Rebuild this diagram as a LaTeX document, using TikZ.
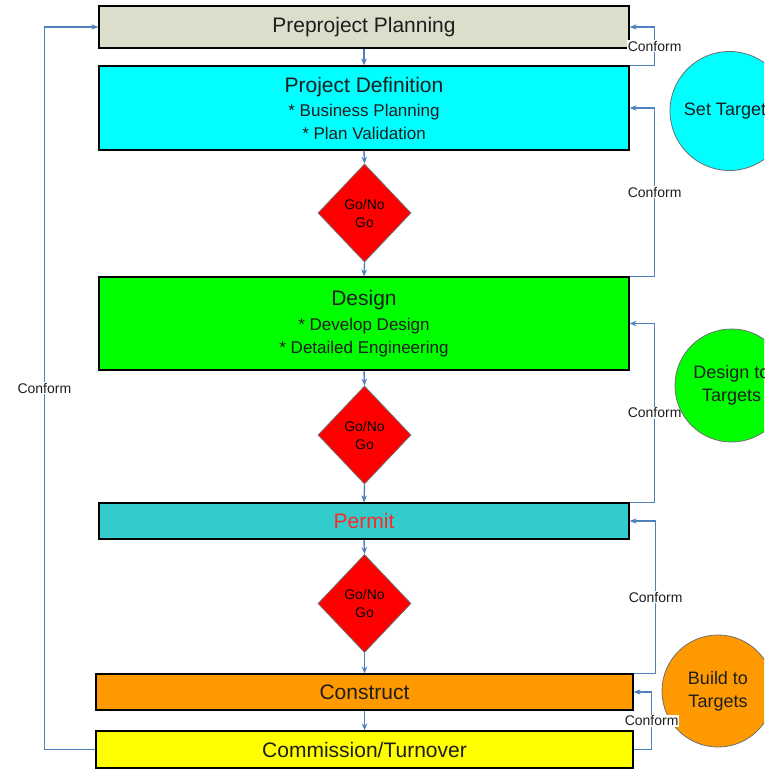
\documentclass[tikz,border=0pt]{standalone}
\usepackage{fontspec}
\setmainfont{Liberation Sans}
\usetikzlibrary{shapes.geometric,arrows.meta}
\definecolor{prefill}{RGB}{221,221,204}
\definecolor{cyanfill}{RGB}{0,255,255}
\definecolor{greenfill}{RGB}{0,255,0}
\definecolor{permitfill}{RGB}{51,204,204}
\definecolor{orangefill}{RGB}{255,153,0}
\definecolor{yellowfill}{RGB}{255,255,0}
\definecolor{redfill}{RGB}{255,0,0}
\definecolor{arrowblue}{RGB}{79,129,189}
\definecolor{txt}{RGB}{30,30,30}
\definecolor{permittxt}{RGB}{255,40,40}
\definecolor{circedge}{RGB}{110,110,110}
\begin{document}
\begin{tikzpicture}[x=1pt,y=-1pt,
  stagebox/.style={draw=black,line width=1.2pt,rectangle,inner sep=0pt,text=txt,align=center,
    font=\fontsize{21}{23}\selectfont},
  gate/.style={diamond,draw=circedge,line width=0.8pt,fill=redfill,inner sep=0pt,
    minimum width=93pt,minimum height=98pt,align=center,text=black,
    font=\fontsize{14}{18}\selectfont},
  target/.style={circle,draw=circedge,line width=0.8pt,inner sep=0pt,align=center,text=txt,
    font=\fontsize{18}{23}\selectfont},
  arr/.style={draw=arrowblue,line width=1.4pt,-{Stealth[length=7pt,width=5.5pt]}},
  conf/.style={fill=white,inner sep=1pt,text=txt,font=\fontsize{14}{16}\selectfont}
]
\useasboundingbox (0,0) rectangle (764,770);
\clip (0,0) rectangle (764,770);

% stage boxes
\node[stagebox,fill=prefill,minimum width=530pt,minimum height=42pt] (pre) at (364,27) {Preproject Planning};
\node[stagebox,fill=cyanfill,minimum width=530pt,minimum height=84pt] (def) at (364,108)
  {Project Definition\\[1pt]{\fontsize{17}{23}\selectfont * Business Planning}\\{\fontsize{17}{23}\selectfont * Plan Validation}};
\node[gate] (g1) at (364.5,213) {Go/No\\Go};
\node[stagebox,fill=greenfill,minimum width=530pt,minimum height=93pt] (design) at (364,323.5)
  {Design\\[2pt]{\fontsize{17}{23}\selectfont * Develop Design}\\{\fontsize{17}{23}\selectfont * Detailed Engineering}};
\node[gate] (g2) at (364.5,435) {Go/No\\Go};
\node[stagebox,fill=permitfill,minimum width=530pt,minimum height=36pt,text=permittxt] (permit) at (364,521) {Permit};
\node[gate] (g3) at (364.5,603.5) {Go/No\\Go};
\node[stagebox,fill=orangefill,minimum width=537pt,minimum height=36pt] (construct) at (364.5,692) {Construct};
\node[stagebox,fill=yellowfill,minimum width=537pt,minimum height=37pt] (comm) at (364.5,749.5) {Commission/Turnover};

% main flow
\draw[arr] (pre.south) -- (def.north);
\draw[arr] (def.south) -- (g1.north);
\draw[arr] (g1.south) -- (design.north);
\draw[arr] (design.south) -- (g2.north);
\draw[arr] (g2.south) -- (permit.north);
\draw[arr] (permit.south) -- (g3.north);
\draw[arr] (g3.south) -- (construct.north);
\draw[arr] (construct.south) -- (comm.north);

% build circle (label of the last loop lies over it)
\node[target,fill=orangefill,minimum size=112pt] (build) at (718,691) {Build to\\Targets};

% conform loops
\draw[arr] (def.north east) -- ++(25,0) |- node[pos=0.25,conf] (cf1) {Conform} (pre.east);
\draw[arr] (design.north east) -- ++(25,0) |- node[pos=0.25,conf] (cf2) {Conform} (def.east);
\draw[arr] (permit.north east) -- ++(25,0) |- node[pos=0.25,conf] (cf3) {Conform} (design.east);
\draw[arr] (construct.north east) -- ++(22,0) |- node[pos=0.25,conf] (cf4) {Conform} (permit.east);
\draw[arr] (comm.east) -- ++(18,0) |- node[pos=0.25,conf] (cf5) {Conform} (construct.east);
\draw[arr] (comm.west) -- ++(-51,0) |- node[pos=0.25,conf] (cf6) {Conform} (pre.west);

% target circles
\node[target,fill=cyanfill,minimum size=119pt] (set) at (729.5,111) {Set Targets};
\node[target,fill=greenfill,minimum size=113pt] (dtt) at (731.5,385.5) {Design to\\Targets};
\end{tikzpicture}
\end{document}
